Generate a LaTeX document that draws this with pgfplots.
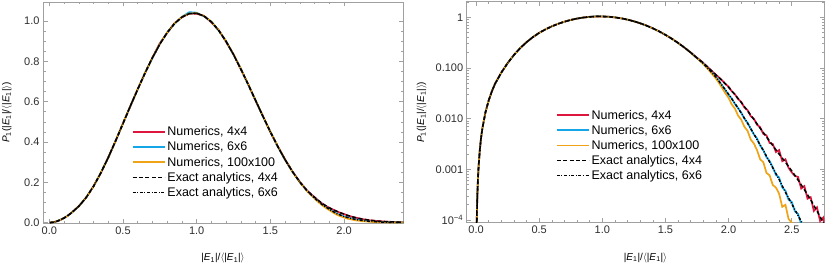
\documentclass[border=0pt]{standalone}
\usepackage{pgfplots}
\usepackage{pgfplotstable}
\pgfplotsset{compat=1.18}
\usepackage{fontspec}
\setmainfont{Liberation Sans}
\definecolor{cRed}{RGB}{222,22,62}
\definecolor{cBlue}{RGB}{20,166,230}
\definecolor{cOrange}{RGB}{238,164,22}
\definecolor{frameGray}{RGB}{160,160,160}
\definecolor{txtGray}{RGB}{45,45,45}

\pgfplotstableread{
x y
0.004 5.1e-5
0.006 1.11e-4
0.010 2.96e-4
0.015 6.45e-4
0.020 1.12e-3
0.030 2.44e-3
0.040 4.24e-3
0.050 6.4e-3
0.075 0.0135
0.100 0.0228
0.125 0.0345
0.150 0.0485
0.200 0.0810
0.250 0.1245
0.300 0.1805
0.350 0.2475
0.400 0.3230
0.450 0.4060
0.500 0.4925
0.550 0.5785
0.600 0.6625
0.650 0.7435
0.700 0.8187
0.750 0.8859
0.800 0.9432
0.850 0.9885
0.900 1.0202
0.950 1.0372
1.000 1.0388
1.050 1.0249
1.100 0.9960
1.150 0.9533
1.200 0.8985
1.250 0.8339
1.300 0.7618
1.350 0.6847
1.400 0.6055
1.450 0.5265
1.500 0.4500
1.550 0.3781
1.600 0.3120
1.650 0.2528
1.700 0.2011
1.750 0.1575
1.800 0.1259
1.850 0.0955
1.900 0.0733
1.950 0.0562
2.000 0.0417
2.050 0.0299
2.100 0.0209
2.150 0.01429
2.200 0.00966
2.250 0.00646
2.300 0.00437
2.350 0.00295
2.400 0.00200
2.450 0.00138
2.500 9.33e-4
2.550 6.17e-4
2.600 3.98e-4
2.650 2.51e-4
2.700 1.51e-4
2.750 8.9e-5
2.800 5.0e-5
}\exactfour

\pgfplotstableread{
x y
0.004 5.1e-5
0.006 1.11e-4
0.010 2.96e-4
0.015 6.45e-4
0.020 1.12e-3
0.030 2.44e-3
0.040 4.24e-3
0.050 6.4e-3
0.075 0.0135
0.100 0.0228
0.125 0.0345
0.150 0.0485
0.200 0.0810
0.250 0.1245
0.300 0.1805
0.350 0.2475
0.400 0.3230
0.450 0.4060
0.500 0.4925
0.550 0.5785
0.600 0.6625
0.650 0.7435
0.700 0.8187
0.750 0.8859
0.800 0.9432
0.850 0.9885
0.900 1.0202
0.950 1.0372
1.000 1.0388
1.050 1.0249
1.100 0.9960
1.150 0.9533
1.200 0.8985
1.250 0.8339
1.300 0.7618
1.350 0.6847
1.400 0.6055
1.450 0.5265
1.500 0.4500
1.550 0.3781
1.600 0.3120
1.650 0.2528
1.700 0.2011
1.750 0.1570
1.800 0.1216
1.850 0.0902
1.900 0.0661
1.950 0.0447
2.000 0.0302
2.050 0.0200
2.100 0.01288
2.150 0.00813
2.200 0.00501
2.250 0.00302
2.300 0.00182
2.350 0.00107
2.400 6.31e-4
2.450 3.55e-4
2.500 2.09e-4
2.550 1.23e-4
2.600 7.2e-5
2.650 4.2e-5
}\exactsix

\pgfplotstableread{
x y
0.004 5.2e-5
0.006 1.10e-4
0.010 2.98e-4
0.015 6.40e-4
0.020 1.13e-3
0.030 2.42e-3
0.040 4.26e-3
0.050 6.45e-3
0.075 0.0134
0.100 0.0230
0.125 0.0343
0.150 0.0488
0.200 0.0815
0.250 0.1240
0.300 0.1812
0.350 0.2468
0.400 0.3241
0.450 0.4052
0.500 0.4934
0.550 0.5776
0.600 0.6637
0.650 0.7428
0.700 0.8201
0.750 0.8905
0.800 0.9420
0.850 0.9902
0.900 1.0190
0.950 1.0385
1.000 1.0365
1.050 1.0262
1.100 0.9931
1.150 0.9548
1.200 0.8962
1.250 0.8351
1.300 0.7598
1.350 0.6866
1.400 0.6041
1.450 0.5281
1.500 0.4486
1.550 0.3795
1.600 0.3132
1.650 0.2541
1.700 0.2025
1.750 0.1590
1.775 0.1420
1.800 0.1259
1.825 0.1096
1.850 0.0955
1.875 0.0838
1.900 0.0733
1.925 0.0646
1.950 0.0562
1.975 0.0484
2.000 0.0427
2.025 0.0347
2.050 0.0302
2.075 0.0245
2.100 0.0214
2.125 0.0166
2.150 0.0148
2.175 0.0112
2.200 0.0100
2.225 0.00759
2.250 0.00676
2.275 0.00501
2.300 0.00468
2.325 0.00331
2.350 0.00316
2.375 0.00219
2.400 0.00240
2.425 0.00145
2.450 0.00158
2.475 0.00107
2.500 8.71e-4
2.525 7.41e-4
2.550 7.08e-4
2.575 4.17e-4
2.600 4.68e-4
2.625 2.63e-4
2.650 2.82e-4
2.675 1.51e-4
2.700 1.78e-4
2.725 9.5e-5
2.750 1.12e-4
2.775 5.0e-5
}\numfour

\pgfplotstableread{
x y
0.004 5.0e-5
0.006 1.12e-4
0.010 2.94e-4
0.015 6.48e-4
0.020 1.11e-3
0.030 2.45e-3
0.040 4.22e-3
0.050 6.38e-3
0.075 0.0136
0.100 0.0226
0.125 0.0347
0.150 0.0483
0.200 0.0806
0.250 0.1250
0.300 0.1798
0.350 0.2482
0.400 0.3222
0.450 0.4069
0.500 0.4918
0.550 0.5793
0.600 0.6614
0.650 0.7446
0.700 0.8175
0.750 0.8871
0.800 0.9446
0.850 0.9873
0.900 1.0215
0.950 1.0445
1.000 1.0420
1.050 1.0236
1.100 0.9975
1.150 0.9520
1.200 0.9001
1.250 0.8326
1.300 0.7634
1.350 0.6832
1.400 0.6068
1.450 0.5251
1.500 0.4512
1.550 0.3770
1.600 0.3108
1.650 0.2519
1.700 0.2003
1.750 0.1562
1.775 0.1380
1.800 0.1216
1.825 0.1047
1.850 0.0902
1.875 0.0776
1.900 0.0661
1.925 0.0543
1.950 0.0447
1.975 0.0367
2.000 0.0295
2.025 0.0251
2.050 0.0195
2.075 0.0162
2.100 0.0132
2.125 0.0100
2.150 0.00832
2.175 0.00631
2.200 0.00490
2.225 0.00407
2.250 0.00295
2.275 0.00240
2.300 0.00174
2.325 0.00145
2.350 0.00110
2.375 7.76e-4
2.400 6.92e-4
2.425 4.37e-4
2.450 3.80e-4
2.475 2.51e-4
2.500 2.29e-4
2.525 1.48e-4
2.550 1.32e-4
2.575 8.3e-5
2.600 7.9e-5
2.625 5.0e-5
}\numsix

\pgfplotstableread{
x y
0.004 5.1e-5
0.006 1.11e-4
0.010 2.97e-4
0.015 6.43e-4
0.020 1.12e-3
0.030 2.43e-3
0.040 4.25e-3
0.050 6.42e-3
0.075 0.0135
0.100 0.0229
0.125 0.0346
0.150 0.0486
0.200 0.0812
0.250 0.1252
0.300 0.1800
0.350 0.2479
0.400 0.3226
0.450 0.4064
0.500 0.4930
0.550 0.5790
0.600 0.6630
0.650 0.7440
0.700 0.8195
0.750 0.8865
0.800 0.9440
0.850 0.9890
0.900 1.0210
0.950 1.0380
1.000 1.0395
1.050 1.0255
1.100 0.9970
1.150 0.9545
1.200 0.8995
1.250 0.8350
1.300 0.7630
1.350 0.6860
1.400 0.6065
1.450 0.5275
1.500 0.4510
1.550 0.3790
1.600 0.3120
1.650 0.2520
1.700 0.2000
1.750 0.1555
1.775 0.1370
1.800 0.1200
1.825 0.1020
1.850 0.0871
1.875 0.0733
1.900 0.0617
1.925 0.0501
1.950 0.0398
1.975 0.0316
2.000 0.0257
2.025 0.0191
2.050 0.0158
2.075 0.0115
2.100 0.00955
2.125 0.00692
2.150 0.00575
2.175 0.00389
2.200 0.00324
2.225 0.00240
2.250 0.00158
2.275 0.00138
2.300 8.51e-4
2.325 7.59e-4
2.350 4.90e-4
2.375 4.37e-4
2.400 3.31e-4
2.425 1.82e-4
2.450 2.00e-4
2.475 1.05e-4
2.500 8.9e-5
2.525 4.5e-5
}\numhundred

\pgfplotsset{
  mystyle/.style={
    scale only axis,
    axis line style={frameGray, line width=0.6pt},
    tick style={frameGray, line width=0.6pt},
    major tick length=4.5pt,
    minor tick length=2.5pt,
    tick align=inside,
    tick label style={font=\fontsize{11}{13}\selectfont, text=txtGray},
    /pgf/number format/assume math mode=true,
    label style={font=\fontsize{11}{13}\selectfont, text=txtGray},
    every axis x label/.style={at={(axis description cs:0.5,0)}, yshift=-35pt, anchor=center},
    legend cell align=left,
    clip=true,
    xlabel={|\textit{E}\textsubscript{1}|/$\langle$|\textit{E}\textsubscript{1}|$\rangle$},
    ylabel={\textit{P}\textsubscript{1}(|\textit{E}\textsubscript{1}|/$\langle$|\textit{E}\textsubscript{1}|$\rangle$)},
  },
  numR/.style={color=cRed, line width=1.7pt},
  numB/.style={color=cBlue, line width=1.7pt},
  numO/.style={color=cOrange, line width=1.7pt},
  ex4/.style={color=black, line width=1.5pt, dash pattern=on 4pt off 2.4pt},
  ex6/.style={color=black, line width=1.5pt, dash pattern=on 3pt off 1.6pt on 1pt off 1.6pt},
}

\begin{document}
\begin{tikzpicture}
\useasboundingbox (0pt,0pt) rectangle (830pt,268pt);
\begin{axis}[mystyle,
  at={(43pt,45pt)}, anchor=south west,
  width=360pt, height=221pt,
  xmin=-0.043, xmax=2.40, ymin=-0.002, ymax=1.095,
  xtick={0,0.5,1,1.5,2}, minor x tick num=4,
  ytick={0,0.2,0.4,0.6,0.8,1.0}, minor y tick num=3,
  xticklabel style={/pgf/number format/.cd, fixed, fixed zerofill, precision=1},
  yticklabel style={/pgf/number format/.cd, fixed, fixed zerofill, precision=1},
  every axis y label/.style={at={(axis description cs:0,0.5)}, xshift=-36pt, rotate=90, anchor=center},
  legend image code/.code={\draw[#1] (0pt,0pt) -- (32pt,0pt);},
  legend style={draw=none, fill=none, at={(0.246,0.445)}, anchor=north west,
    font=\fontsize{12.5}{14}\selectfont, row sep=0.5pt, inner sep=0pt},
]
\addplot[numR] table[x=x,y=y] {\numfour};
\addlegendentry{Numerics, 4x4}
\addplot[numB] table[x=x,y=y] {\numsix};
\addlegendentry{Numerics, 6x6}
\addplot[numO] table[x=x,y=y] {\numhundred};
\addlegendentry{Numerics, 100x100}
\addplot[ex4] table[x=x,y=y] {\exactfour};
\addlegendentry{Exact analytics, 4x4}
\addplot[ex6] table[x=x,y=y] {\exactsix};
\addlegendentry{Exact analytics, 6x6}
\end{axis}

\begin{axis}[mystyle,
  at={(466.7pt,45.3pt)}, anchor=south west,
  width=357.6pt, height=221pt,
  ymode=log,
  xmin=-0.074, xmax=2.758, ymin=8.85e-5, ymax=2.03,
  xtick={0,0.5,1,1.5,2,2.5}, minor x tick num=4,
  xticklabel style={/pgf/number format/.cd, fixed, fixed zerofill, precision=1},
  ytick={1e-4,1e-3,1e-2,1e-1,1},
  yticklabels={10\textsuperscript{−4},0.001,0.010,0.100,1},
  minor ytick={2e-4,3e-4,4e-4,5e-4,6e-4,7e-4,8e-4,9e-4,2e-3,3e-3,4e-3,5e-3,6e-3,7e-3,8e-3,9e-3,0.02,0.03,0.04,0.05,0.06,0.07,0.08,0.09,0.2,0.3,0.4,0.5,0.6,0.7,0.8,0.9,2},
  every axis y label/.style={at={(axis description cs:0,0.5)}, xshift=-45pt, rotate=90, anchor=center},
  legend image code/.code={\draw[#1] (0pt,0pt) -- (32pt,0pt);},
  legend style={draw=none, fill=none, at={(0.249,0.520)}, anchor=north west,
    font=\fontsize{12.5}{14}\selectfont, row sep=0.5pt, inner sep=0pt},
]
\addplot[numR] table[x=x,y=y] {\numfour};
\addlegendentry{Numerics, 4x4}
\addplot[numB] table[x=x,y=y] {\numsix};
\addlegendentry{Numerics, 6x6}
\addplot[numO] table[x=x,y=y] {\numhundred};
\addlegendentry{Numerics, 100x100}
\addplot[ex4] table[x=x,y=y] {\exactfour};
\addlegendentry{Exact analytics, 4x4}
\addplot[ex6] table[x=x,y=y] {\exactsix};
\addlegendentry{Exact analytics, 6x6}
\end{axis}
\end{tikzpicture}
\end{document}
